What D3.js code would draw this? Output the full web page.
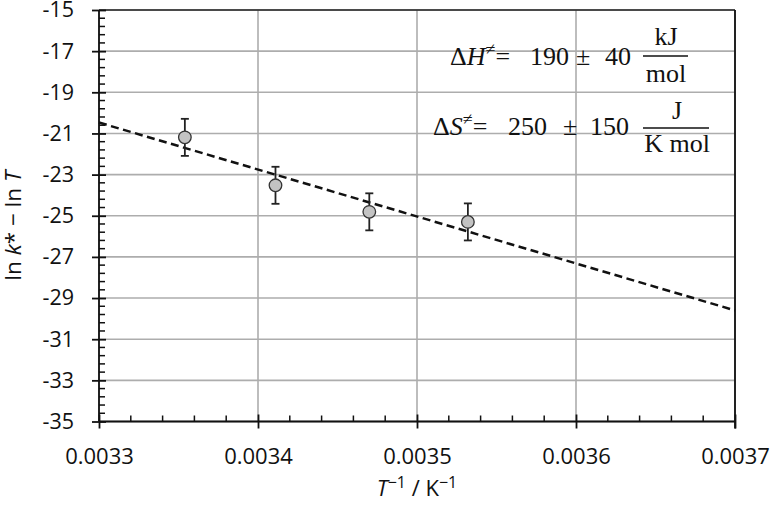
<!DOCTYPE html>
<html>
<head>
<meta charset="utf-8">
<script src="https://cdn.jsdelivr.net/npm/d3@7"></script>
<style>
  body { margin: 0; background: #fff; }
  svg { display: block; }
</style>
</head>
<body>
<svg id="chart"></svg>
<script>
// data
const invT = [0.003354, 0.003411, 0.00347, 0.003532];
const lnKminusLnT = [-21.19, -23.52, -24.81, -25.3];
const errorBar = [0.9, 0.9, 0.9, 0.9];
const trendX = [0.0033, 0.0037];
const trendY = [-20.47, -29.6];
const xTickValues = [0.0033, 0.0034, 0.0035, 0.0036, 0.0037];
const yTickValues = [-35, -33, -31, -29, -27, -25, -23, -21, -19, -17, -15];

const W = 773, H = 507;
const margin = { top: 10, right: 38, bottom: 85.5, left: 99 };
const width = W - margin.left - margin.right;
const height = H - margin.top - margin.bottom;

const svgRoot = d3.select('#chart').attr('width', W).attr('height', H);
const svg = svgRoot.append('g').attr('transform', `translate(${margin.left},${margin.top})`);

const x = d3.scaleLinear().domain([0.0033, 0.0037]).range([0, width]);
const y = d3.scaleLinear().domain([-35, -15]).range([height, 0]);

const points = invT.map((v, i) => ({ x: v, y: lnKminusLnT[i], e: errorBar[i] }));

// minor ticks: 5 per major interval
const minorOf = (ticks) => {
  const out = [];
  for (let i = 0; i < ticks.length - 1; i++) {
    const step = (ticks[i + 1] - ticks[i]) / 5;
    for (let k = 1; k < 5; k++) out.push(ticks[i] + k * step);
  }
  return out;
};

// gridlines
svg.append('g')
  .selectAll('line')
  .data(yTickValues)
  .join('line')
  .attr('x1', 0).attr('x2', width)
  .attr('y1', (d) => y(d)).attr('y2', (d) => y(d))
  .attr('stroke', '#adadad').attr('stroke-width', 1.6);

svg.append('g')
  .selectAll('line')
  .data(xTickValues)
  .join('line')
  .attr('y1', 0).attr('y2', height)
  .attr('x1', (d) => x(d)).attr('x2', (d) => x(d))
  .attr('stroke', '#adadad').attr('stroke-width', 1.6);

// frame top/right
svg.append('line').attr('x1', 0).attr('x2', width).attr('y1', 0).attr('y2', 0)
  .attr('stroke', '#222').attr('stroke-width', 1.5);
svg.append('line').attr('x1', width).attr('x2', width).attr('y1', 0).attr('y2', height + 7)
  .attr('stroke', '#111').attr('stroke-width', 1.8);

// axes
const fontTick = '"Open Sans", sans-serif';
const xAxis = svg.append('g')
  .attr('transform', `translate(0,${height})`)
  .call(d3.axisBottom(x).tickValues(xTickValues).tickSize(7).tickPadding(20)
    .tickFormat(d3.format('.4f')));
xAxis.selectAll('.tick line').attr('y1', -7).attr('stroke', '#111').attr('stroke-width', 1.8);
xAxis.select('.domain').attr('stroke', '#111').attr('stroke-width', 1.8).attr('d', `M0,0H${width}`);
xAxis.selectAll('text').attr('font-family', fontTick).attr('font-size', 22).attr('fill', '#111');

svg.append('g')
  .selectAll('line')
  .data(minorOf(xTickValues))
  .join('line')
  .attr('x1', (d) => x(d)).attr('x2', (d) => x(d))
  .attr('y1', height).attr('y2', height - 6)
  .attr('stroke', '#111').attr('stroke-width', 1.5);

const yAxis = svg.append('g')
  .call(d3.axisLeft(y).tickValues(yTickValues).tickSize(7).tickPadding(18));
yAxis.selectAll('.tick line').attr('x1', 7).attr('stroke', '#111').attr('stroke-width', 1.8);
yAxis.select('.domain').attr('stroke', '#111').attr('stroke-width', 1.8).attr('d', `M0,0V${height}`);
yAxis.selectAll('text').attr('font-family', fontTick).attr('font-size', 21.5).attr('fill', '#111')
  .text((d) => '-' + Math.abs(d));

svg.append('g')
  .selectAll('line')
  .data(minorOf(yTickValues))
  .join('line')
  .attr('y1', (d) => y(d)).attr('y2', (d) => y(d))
  .attr('x1', 0).attr('x2', 6)
  .attr('stroke', '#111').attr('stroke-width', 1.5);

// trend line
svg.append('path')
  .datum(trendX.map((v, i) => [v, trendY[i]]))
  .attr('fill', 'none')
  .attr('stroke', '#111')
  .attr('stroke-width', 2.5)
  .attr('stroke-dasharray', '8,4.5')
  .attr('d', d3.line().x((d) => x(d[0])).y((d) => y(d[1])));

// error bars
const eb = svg.append('g').attr('stroke', '#222').attr('stroke-width', 1.8);
eb.selectAll('.bar').data(points).join('line')
  .attr('x1', (d) => x(d.x)).attr('x2', (d) => x(d.x))
  .attr('y1', (d) => y(d.y + d.e)).attr('y2', (d) => y(d.y - d.e));
eb.selectAll('.capT').data(points).join('line').attr('class', 'capT')
  .attr('x1', (d) => x(d.x) - 4).attr('x2', (d) => x(d.x) + 4)
  .attr('y1', (d) => y(d.y + d.e)).attr('y2', (d) => y(d.y + d.e));
eb.selectAll('.capB').data(points).join('line').attr('class', 'capB')
  .attr('x1', (d) => x(d.x) - 4).attr('x2', (d) => x(d.x) + 4)
  .attr('y1', (d) => y(d.y - d.e)).attr('y2', (d) => y(d.y - d.e));

// markers
svg.append('g')
  .selectAll('circle')
  .data(points)
  .join('circle')
  .attr('cx', (d) => x(d.x))
  .attr('cy', (d) => y(d.y))
  .attr('r', 6.3)
  .attr('fill', '#c3c3c3')
  .attr('stroke', '#333')
  .attr('stroke-width', 1.3);

// axis titles
const xt = svgRoot.append('text')
  .attr('x', margin.left + x(0.0035))
  .attr('y', 496)
  .attr('text-anchor', 'middle')
  .attr('font-family', fontTick)
  .attr('font-size', 22)
  .attr('fill', '#111');
xt.append('tspan').attr('font-style', 'italic').text('T');
xt.append('tspan').attr('font-size', 16).attr('dy', -8).text('\u22121');
xt.append('tspan').attr('dy', 8).text(' / K');
xt.append('tspan').attr('font-size', 16).attr('dy', -8).text('\u22121');

const yt = svgRoot.append('text')
  .attr('transform', `translate(21,${margin.top + height / 2 + 10}) rotate(-90)`)
  .attr('text-anchor', 'middle')
  .attr('font-family', fontTick)
  .attr('font-size', 22.5)
  .attr('fill', '#111');
yt.append('tspan').text('ln ');
yt.append('tspan').attr('font-style', 'italic').text('k');
yt.append('tspan').text('* \u2212 ln ');
yt.append('tspan').attr('font-style', 'italic').text('T');

// annotations
const serif = '"Liberation Serif", "DejaVu Serif", serif';
const annot = svgRoot.append('g').attr('font-family', serif).attr('font-size', 26).attr('fill', '#111');
function eq(xPos, yPos, sym, parts) {
  const t = annot.append('text').attr('x', xPos).attr('y', yPos);
  t.append('tspan').text('\u0394');
  t.append('tspan').attr('font-style', 'italic').text(sym);
  t.append('tspan').attr('font-size', 18).attr('dy', -10).text('\u2260');
  t.append('tspan').attr('dy', 10).text('=');
  parts.forEach(([px, s]) => annot.append('text').attr('x', px).attr('y', yPos).text(s));
}
function frac(cx, lineY, x1, x2, num, den, numY, denY) {
  annot.append('text').attr('x', cx).attr('y', numY).attr('text-anchor', 'middle').text(num);
  annot.append('text').attr('x', cx).attr('y', denY).attr('text-anchor', 'middle').text(den);
  annot.append('line').attr('x1', x1).attr('x2', x2).attr('y1', lineY).attr('y2', lineY)
    .attr('stroke', '#111').attr('stroke-width', 1.6);
}
eq(450, 65, 'H', [[530, '190'], [576, '\u00b1'], [605, '40']]);
frac(666, 56, 643, 688, 'kJ', 'mol', 45, 82);
eq(433, 135, 'S', [[508, '250'], [563, '\u00b1'], [590, '150']]);
frac(677, 128, 643, 709, 'J', 'K mol', 119, 152);
</script>
</body>
</html>
